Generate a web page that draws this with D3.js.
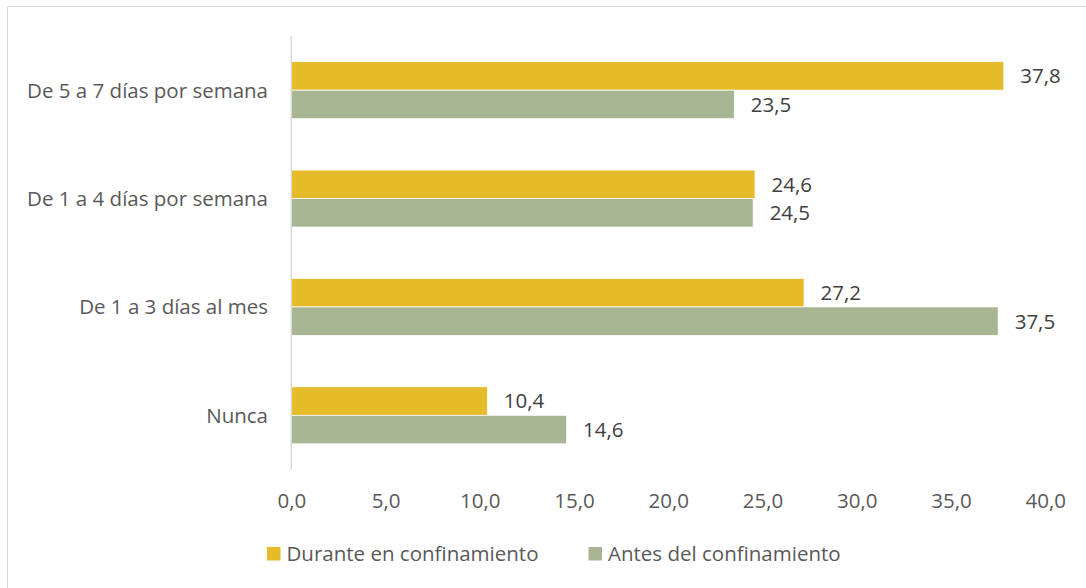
<!DOCTYPE html>
<html><head><meta charset="utf-8">
<script src="https://cdn.jsdelivr.net/npm/d3@7"></script>
<style>body{margin:0;background:#fff}</style>
</head><body>
<svg id="c" width="1086" height="588"></svg>
<script>
const categories = ["De 5 a 7 días por semana","De 1 a 4 días por semana","De 1 a 3 días al mes","Nunca"];
const seriesNames = ["Durante en confinamiento","Antes del confinamiento"];
const durante = [37.8, 24.6, 27.2, 10.4];
const antes = [23.5, 24.5, 37.5, 14.6];
const xTicks = [0,5,10,15,20,25,30,35,40];
const colors = ["#E6BB2A","#A7B592"];

const font = "'Open Sans', sans-serif";
const fs = 20.5;
const svg = d3.select("#c");
svg.append("rect").attr("x",7.5).attr("y",6.5).attr("width",1090).attr("height",600)
  .attr("fill","#fff").attr("stroke","#d9d9d9").attr("stroke-width",1);

const x = d3.scaleLinear().domain([0,40]).range([291.3,1045.3]);
const y = d3.scaleBand().domain(categories).range([36,469.5]).paddingInner(0.474).paddingOuter(0.237);
const ySub = d3.scaleBand().domain(seriesNames).range([0,y.bandwidth()]);

// bars
const data = [durante, antes];
seriesNames.forEach((s,si)=>{
  const g = svg.append("g");
  g.selectAll("rect").data(categories).join("rect")
    .attr("x", x(0)).attr("y", (c)=>y(c)+ySub(s))
    .attr("width", (c,i)=>x(data[si][i])-x(0)).attr("height", ySub.bandwidth())
    .attr("fill", colors[si]).attr("stroke","#fff").attr("stroke-width",0.75);
  g.selectAll("text").data(categories).join("text")
    .attr("x", (c,i)=>x(data[si][i])+16.5).attr("y",(c)=>y(c)+ySub(s)+ySub.bandwidth()/2)
    .attr("dy","0.36em").attr("font-family",font).attr("font-size",fs).attr("fill","#404040")
    .text((c,i)=>d3.format(".1f")(data[si][i]).replace(".",","));
});

// y axis line
svg.append("line").attr("x1",x(0)).attr("x2",x(0)).attr("y1",36).attr("y2",469.5)
  .attr("stroke","#d9d9d9").attr("stroke-width",1.5);

// category labels
svg.append("g").selectAll("text").data(categories).join("text")
  .attr("x",268).attr("y",c=>y(c)+y.bandwidth()/2).attr("dy","0.36em")
  .attr("text-anchor","end").attr("font-family",font).attr("font-size",fs).attr("fill","#595959")
  .text(d=>d);

// x axis tick labels
const xAxis = d3.axisBottom(x).tickValues(xTicks).tickSize(0).tickPadding(0)
  .tickFormat(d=>d3.format(".1f")(d).replace(".",","));
const ax = svg.append("g").attr("transform","translate(0,0)").call(xAxis);
ax.select(".domain").remove();
ax.selectAll("text").attr("y",507.5).attr("dy",0)
  .attr("font-family",font).attr("font-size",fs).attr("fill","#595959");

// legend
const legX = [267, 588.5];
seriesNames.forEach((s,i)=>{
  svg.append("rect").attr("x",legX[i]).attr("y",547).attr("width",13.5).attr("height",13.5).attr("fill",colors[i]);
  svg.append("text").attr("x",legX[i]+19.5).attr("y",560.7)
    .attr("font-family",font).attr("font-size",fs).attr("fill","#595959").text(s);
});
</script>
</body></html>
